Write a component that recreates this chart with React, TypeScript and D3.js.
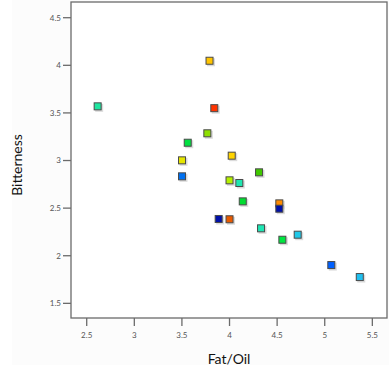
import React from "react";
import * as d3 from "d3";

const fatOil = [3.79, 2.615, 3.84, 3.767, 3.561, 3.501, 3.501, 4.023, 4.31, 4.0, 4.103, 4.139, 4.523, 4.523, 3.886, 4.0, 4.331, 4.555, 4.716, 5.069, 5.368];
const bitterness = [4.048, 3.569, 3.55, 3.286, 3.187, 3.002, 2.834, 3.051, 2.876, 2.792, 2.764, 2.571, 2.55, 2.494, 2.386, 2.383, 2.288, 2.168, 2.221, 1.902, 1.776];
const pointColors = ["#ffc400", "#1ee6a0", "#ff3300", "#8fe000", "#00e040", "#e6e600", "#0070f0", "#ffd400", "#40c800", "#b4f000", "#1ee6b0", "#00dc30", "#ff8c00", "#0010a8", "#0010a8", "#e85a00", "#1ee6b4", "#00e640", "#20c8e8", "#0060ff", "#20c0f0"];
const xTicks = [2.5, 3, 3.5, 4, 4.5, 5, 5.5];
const yTicks = [1.5, 2, 2.5, 3, 3.5, 4, 4.5];

export default function App() {
  const W = 389, H = 377;
  const left = 71, right = 387, top = 2, bottom = 318;
  const x = d3.scaleLinear().domain([2.335, 5.654]).range([left, right]);
  const y = d3.scaleLinear().domain([1.346, 4.665]).range([bottom, top]);
  const s = 7;
  return (
    <svg width={W} height={H} style={{ position: "absolute", left: 0, top: 0, fontFamily: "Lato, 'Open Sans', sans-serif" }}>
      <rect x={0} y={0} width={W} height={H} fill="#fff" />
      <rect x={12} y={0} width={377} height={365} fill="#fcfcfc" />
      <rect x={left} y={top} width={right - left} height={bottom - top} fill="#fff" stroke="#6b6b6b" strokeWidth={1.3} />
      {yTicks.map((t) => (
        <g key={"y" + t}>
          <line x1={left - 8} x2={left} y1={y(t)} y2={y(t)} stroke="#6b6b6b" strokeWidth={1.3} />
          <text x={left - 10} y={y(t)} dy="0.35em" textAnchor="end" fontSize={8} fill="#555">{t}</text>
        </g>
      ))}
      {xTicks.map((t) => (
        <g key={"x" + t}>
          <line x1={x(t)} x2={x(t)} y1={bottom} y2={bottom + 8} stroke="#6b6b6b" strokeWidth={1.3} />
          <text x={x(t)} y={bottom + 17} dy="0.35em" textAnchor="middle" fontSize={8} fill="#555">{t}</text>
        </g>
      ))}
      <text x={(left + right) / 2} y={359} dy="0.35em" textAnchor="middle" fontSize={14} fill="#111">Fat/Oil</text>
      <text transform={`translate(17,${165}) rotate(-90)`} textAnchor="middle" dy="0.35em" fontSize={14} fill="#111">Bitterness</text>
      {fatOil.map((v, i) => (
        <g key={i}>
          <rect x={x(v) - s / 2 + 1} y={y(bitterness[i]) - s / 2 + 1} width={s + 1} height={s + 1} fill="#ccc" opacity={0.7} />
          <rect x={x(v) - s / 2} y={y(bitterness[i]) - s / 2} width={s} height={s} fill={pointColors[i]} stroke="#4a4a4a" strokeWidth={1} />
        </g>
      ))}
    </svg>
  );
}
